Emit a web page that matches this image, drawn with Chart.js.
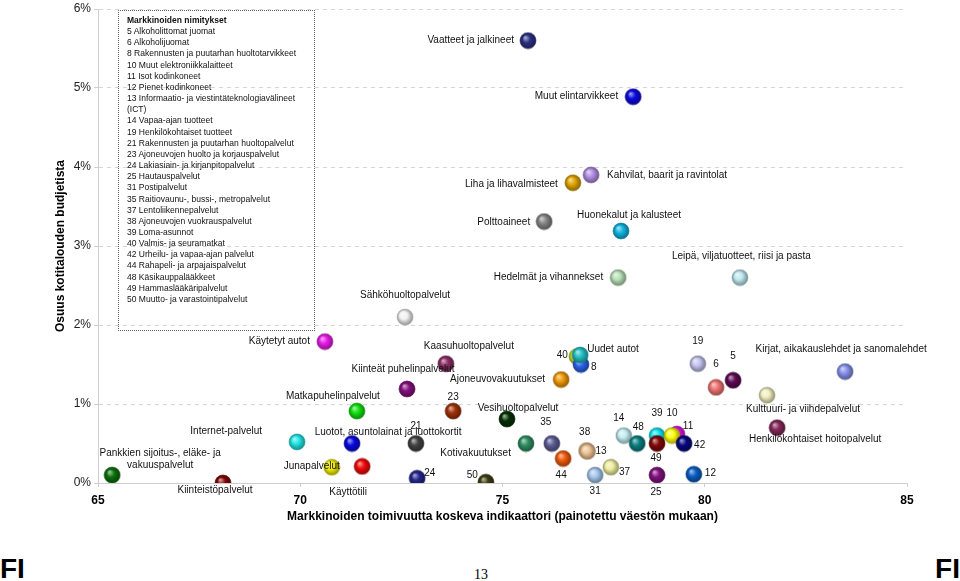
<!DOCTYPE html>
<html>
<head>
<meta charset="utf-8">
<script src="https://cdn.jsdelivr.net/npm/chart.js@4.4.1/dist/chart.umd.min.js"></script>
<style>
  html, body { margin: 0; padding: 0; background: #fff; }
  body { width: 960px; height: 581px; position: relative; overflow: hidden; font-family: "Liberation Sans", Arial, sans-serif; }
  #wrap { position: absolute; left: 0; top: 0; width: 960px; height: 530px; }
  #legendBox { position: absolute; left: 118px; top: 10px; width: 197px; height: 321px; border: 1px dotted #666; box-sizing: border-box; overflow: hidden; }
  #legendInner { position: absolute; left: 8px; top: 3px; font-size: 9.8px; line-height: 11.16px; color: #111; white-space: nowrap; transform: scaleX(0.87); transform-origin: 0 0; }
  #legendInner .ttl { font-weight: bold; }
  .fi { position: absolute; top: 555px; font-size: 28px; font-weight: bold; line-height: 28px; color: #000; }
  #page { position: absolute; top: 568px; left: 468px; width: 26px; text-align: center; font-family: "Liberation Serif", "Times New Roman", serif; font-size: 14px; line-height: 14px; color: #000; }
</style>
</head>
<body>
<div id="wrap"><canvas id="c"></canvas></div>
<div id="legendBox"><div id="legendInner"></div></div>
<div class="fi" style="left:0">FI</div>
<div class="fi" style="right:0">FI</div>
<div id="page">13</div>
<script>
// ---------- data ----------
const pointNames = [
  "Vaatteet ja jalkineet", "Muut elintarvikkeet", "Liha ja lihavalmisteet", "Kahvilat, baarit ja ravintolat",
  "Polttoaineet", "Huonekalut ja kalusteet", "Hedelmät ja vihannekset", "Leipä, viljatuotteet, riisi ja pasta",
  "Sähköhuoltopalvelut", "Käytetyt autot", "Kaasuhuoltopalvelut", "Kiinteät puhelinpalvelut",
  "Ajoneuvovakuutukset", "40", "8", "Uudet autot", "19", "6", "5",
  "Kirjat, aikakauslehdet ja sanomalehdet", "Kulttuuri- ja viihdepalvelut", "Henkilökohtaiset hoitopalvelut",
  "14", "48", "39", "11", "10", "49", "42", "12", "25", "37", "31", "38", "13", "35", "44",
  "Vesihuoltopalvelut", "Kotivakuutukset", "23", "21", "24", "50",
  "Matkapuhelinpalvelut", "Luotot, asuntolainat ja luottokortit", "Internet-palvelut", "Junapalvelut",
  "Käyttötili", "Pankkien sijoitus-, eläke- ja\nvakuuspalvelut", "Kiinteistöpalvelut"
];
const marketIndicator = [
  75.63, 78.23, 76.74, 77.19,
  76.03, 77.93, 77.86, 80.87,
  72.59, 70.61, 73.60, 72.64,
  76.45, 76.84, 76.94, 76.92, 79.83, 80.28, 80.70,
  83.47, 81.54, 81.79,
  78.00, 78.33, 78.82, 79.31, 79.19, 78.82, 79.49, 79.73, 78.82, 77.68, 77.29, 77.08, 77.10, 76.22, 76.50,
  75.11, 75.58, 73.78, 72.86, 72.89, 74.59,
  71.40, 71.28, 69.92, 70.78,
  71.53, 65.35, 68.09
];
const budgetShare = [
  5.60, 4.89, 3.80, 3.90,
  3.31, 3.19, 2.60, 2.60,
  2.10, 1.79, 1.51, 1.19,
  1.31, 1.60, 1.50, 1.62, 1.51, 1.21, 1.30,
  1.41, 1.11, 0.70,
  0.60, 0.50, 0.60, 0.62, 0.60, 0.50, 0.50, 0.11, 0.10, 0.20, 0.10, 0.41, 0.40, 0.50, 0.31,
  0.81, 0.50, 0.91, 0.50, 0.06, 0.01,
  0.91, 0.50, 0.52, 0.20,
  0.21, 0.10, 0.00
];
const xTicks = [65, 70, 75, 80, 85];
const yTicks = [0, 1, 2, 3, 4, 5, 6];
const legendTitle = "Markkinoiden nimitykset";
const legendItems = [
  "5 Alkoholittomat juomat", "6 Alkoholijuomat", "8 Rakennusten ja puutarhan huoltotarvikkeet",
  "10 Muut elektroniikkalaitteet", "11 Isot kodinkoneet", "12 Pienet kodinkoneet",
  "13 Informaatio- ja viestintäteknologiavälineet", "(ICT)", "14 Vapaa-ajan tuotteet",
  "19 Henkilökohtaiset tuotteet", "21 Rakennusten ja puutarhan huoltopalvelut",
  "23 Ajoneuvojen huolto ja korjauspalvelut", "24 Lakiasiain- ja kirjanpitopalvelut",
  "25 Hautauspalvelut", "31 Postipalvelut", "35 Raitiovaunu-, bussi-, metropalvelut",
  "37 Lentoliikennepalvelut", "38 Ajoneuvojen vuokrauspalvelut", "39 Loma-asunnot",
  "40 Valmis- ja seuramatkat", "42 Urheilu- ja vapaa-ajan palvelut", "44 Rahapeli- ja arpajaispalvelut",
  "48 Käsikauppalääkkeet", "49 Hammaslääkäripalvelut", "50 Muutto- ja varastointipalvelut"
];
const xTitle = "Markkinoiden toimivuutta koskeva indikaattori (painotettu väestön mukaan)";
const yTitle = "Osuus kotitalouden budjetista";

// ---------- styles ----------
const ballColors = [
  "#2b3183", "#0a0ae0", "#e0a400", "#b28fe3",
  "#858585", "#0fb4e0", "#b9e2b9", "#bfe9f0",
  "#f2f2f2", "#e81ce8", "#8c2d64", "#84107e",
  "#f09a0a", "#c6e02a", "#2a62ea", "#22c0c4", "#c4c4f0", "#f07474", "#5e0a52",
  "#8692ea", "#f2f0c0", "#84285a",
  "#c4eef2", "#0a7f80", "#10e4ee", "#e010e0", "#ffff10", "#820808", "#06067e", "#0a5ec4", "#82107e", "#eeeea0", "#a6c8ee", "#f0c496", "#f0c496", "#5c5c94", "#f05a0c",
  "#053005", "#2e8e62", "#a03208", "#424242", "#24248a", "#3c3c10",
  "#10e010", "#0808e0", "#22e6e6", "#f2f000",
  "#f00a0a", "#0a700a", "#820606"
];
const labelPlacement = [
  [-14, 0, "right"], [-15, 0, "right"], [-15, 1, "right"], [16, 0, "left"],
  [-14, 1, "right"], [8, -16, "center"], [-15, 0, "right"], [-68, -21, "left"],
  [0, -22, "center"], [-15, 0, "right"], [23, -17, "center"], [-4, -20, "center"],
  [-16, 0, "right"], [-9, -1, "right"], [10, 3, "left"], [7, -6, "left"], [0, -22, "center"], [0, -23, "center"], [0, -24, "center"],
  [-4, -22, "center"], [36, 14, "center"], [38, 12, "center"],
  [-5, -17, "center"], [1, -16, "center"], [0, -22, "center"], [6, -8, "left"], [0, -22, "center"], [-1, 15, "center"], [10, 2, "left"], [11, -1, "left"], [-1, 17, "center"], [8, 5, "left"], [0, 16, "center"], [-2, -18, "center"], [8, 0, "left"], [-6, -21, "center"], [-2, 17, "center"],
  [11, -11, "center"], [-15, 10, "right"], [0, -14, "center"], [0, -17, "center"], [7, -5, "left"], [-8, -7, "right"],
  [-24, -15, "center"], [36, -11, "center"], [-35, -11, "right"], [8, -1, "right"],
  [-14, 26, "center"], [48, -22, "center"], [-8, 7, "center"]
];

// ---------- legend box ----------
(function () {
  const box = document.getElementById('legendInner');
  const t = document.createElement('div'); t.className = 'ttl'; t.textContent = legendTitle; box.appendChild(t);
  legendItems.forEach(s => { const d = document.createElement('div'); d.textContent = s; box.appendChild(d); });
})();

// ---------- sphere sprites ----------
function mix(hex, target, amt) {
  const n = parseInt(hex.slice(1), 16);
  const r = (n >> 16) & 255, g = (n >> 8) & 255, b = n & 255;
  const m = (c, tc) => Math.round(c + (tc - c) * amt);
  return `rgb(${m(r, target)},${m(g, target)},${m(b, target)})`;
}
function sphere(color) {
  const R = 8, S = 18;
  const cv = document.createElement('canvas'); cv.width = S; cv.height = S;
  const c = cv.getContext('2d');
  const cx = S / 2, cy = S / 2;
  const g = c.createRadialGradient(cx - 2.8, cy - 3.2, 0.5, cx, cy, R);
  g.addColorStop(0, mix(color, 255, 0.6));
  g.addColorStop(0.45, color);
  g.addColorStop(1, mix(color, 0, 0.4));
  c.fillStyle = g;
  c.beginPath(); c.arc(cx, cy, R, 0, Math.PI * 2); c.fill();
  c.strokeStyle = mix(color, 0, 0.3); c.lineWidth = 0.6; c.stroke();
  return cv;
}
const sprites = ballColors.map(sphere);

// ---------- label plugin ----------
const pointLabelPlugin = {
  id: 'pointLabels',
  afterDatasetsDraw(chart) {
    const meta = chart.getDatasetMeta(0);
    const ctx = chart.ctx;
    ctx.save();
    ctx.font = '10px "Liberation Sans", Arial, sans-serif';
    ctx.fillStyle = '#111';
    ctx.textBaseline = 'middle';
    meta.data.forEach((pt, i) => {
      const p = labelPlacement[i];
      ctx.textAlign = p[2];
      pointNames[i].split('\n').forEach((ln, k) => ctx.fillText(ln, pt.x + p[0], pt.y + p[1] + k * 12));
    });
    ctx.restore();
  }
};

const points = marketIndicator.map((x, i) => ({ x: x, y: budgetShare[i] }));

new Chart(document.getElementById('c'), {
  type: 'scatter',
  data: { datasets: [{ data: points, pointStyle: sprites, pointRadius: 8, clip: 0 }] },
  plugins: [pointLabelPlugin],
  options: {
    responsive: true, maintainAspectRatio: false, animation: false,
    layout: { padding: { left: 0, top: 6, right: 53, bottom: 0 } },
    plugins: { legend: { display: false }, tooltip: { enabled: false } },
    scales: {
      x: {
        type: 'linear', min: xTicks[0], max: xTicks[xTicks.length - 1],
        afterBuildTicks: s => { s.ticks = xTicks.map(v => ({ value: v })); },
        afterFit: s => { s.height = 47; },
        ticks: { padding: 6, color: '#000', font: { family: '"Liberation Sans", Arial, sans-serif', size: 12, weight: 'bold' } },
        grid: { drawOnChartArea: false, drawTicks: true, tickLength: 4, color: '#cfcfcf' },
        border: { color: '#cfcfcf', width: 1 },
        title: { display: true, text: xTitle, color: '#000', padding: { top: 2, bottom: 6 }, font: { family: '"Liberation Sans", Arial, sans-serif', size: 12, weight: 'bold' } }
      },
      y: {
        type: 'linear', min: yTicks[0], max: yTicks[yTicks.length - 1],
        afterBuildTicks: s => { s.ticks = yTicks.map(v => ({ value: v })); },
        afterFit: s => { s.width = 98; s.paddingTop = 0; s.paddingBottom = 0; },
        ticks: { padding: 3, color: '#222', callback: v => v + '%', font: { family: '"Liberation Sans", Arial, sans-serif', size: 12, lineHeight: 1 } },
        grid: { color: '#d6d6d6', tickLength: 4, tickColor: '#cfcfcf', tickBorderDash: [] },
        border: { color: '#cfcfcf', width: 1, dash: [4, 4] },
        title: { display: true, text: yTitle, color: '#000', padding: { top: 53, bottom: 0 }, font: { family: '"Liberation Sans", Arial, sans-serif', size: 12, weight: 'bold' } }
      }
    }
  }
});
</script>
</body>
</html>
